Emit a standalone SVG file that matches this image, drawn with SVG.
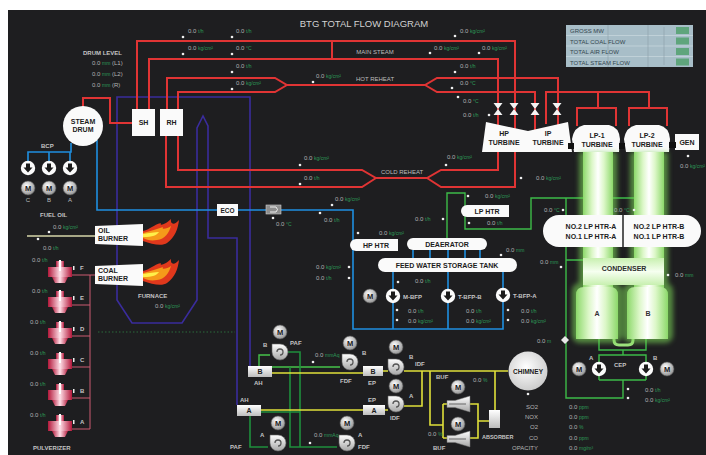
<svg xmlns="http://www.w3.org/2000/svg" width="706" height="455" viewBox="0 0 706 455">
<defs>
<style>
text{font-family:"Liberation Sans",Arial,sans-serif}
.t{font-size:9.5px;fill:#d2d2d2}
.lbl{font-size:7px;font-weight:bold;fill:#c9c9c9}
.nl{font-size:7px;font-weight:bold;fill:#1c1c1c;text-anchor:middle}
.pl{font-size:6px;fill:#bdbdbd;text-anchor:middle}
.sm{font-size:6px;font-weight:bold;fill:#c4c4c4}
.v{font-size:6px;fill:#b4b4b4}
.u{font-size:5px;fill:#2d9a58}
.lg{font-size:6px;fill:#34464e}
.steam{fill:none;stroke:#e03434;stroke-width:2}
.water{fill:none;stroke:#1f8fe0;stroke-width:1.6}
.gas{fill:none;stroke:#3a2c9c;stroke-width:1.6}
.cond{fill:none;stroke:#3dbb48;stroke-width:1.4}
.air{fill:none;stroke:#1f8f3c;stroke-width:1.6}
.airb{fill:none;stroke:#45c24a;stroke-width:1.4}
.flue{fill:none;stroke:#e0e03a;stroke-width:1.6}
.coal{fill:none;stroke:#cc5a70;stroke-width:1}
.oil{fill:none;stroke:#d6d6a8;stroke-width:1.6}
.box{fill:#fafafa}
.dot{fill:#efefef}
</style>
<radialGradient id="gM" cx="0.4" cy="0.35" r="0.75"><stop offset="0" stop-color="#ffffff"/><stop offset="1" stop-color="#858585"/></radialGradient>
<linearGradient id="gF" x1="0" y1="0" x2="0" y2="1"><stop offset="0" stop-color="#ffffff"/><stop offset="1" stop-color="#a6a6a6"/></linearGradient>
<linearGradient id="gBox" x1="0" y1="0" x2="0" y2="1"><stop offset="0" stop-color="#ffffff"/><stop offset="1" stop-color="#bdbdbd"/></linearGradient>
<linearGradient id="gP" x1="0" y1="0" x2="1" y2="0"><stop offset="0" stop-color="#b3173a"/><stop offset="0.5" stop-color="#ffe0e8"/><stop offset="1" stop-color="#b3173a"/></linearGradient>
<linearGradient id="gTube" x1="0" y1="0" x2="1" y2="0"><stop offset="0" stop-color="#8cd86a"/><stop offset="0.3" stop-color="#dcf7c8"/><stop offset="0.5" stop-color="#ffffff"/><stop offset="0.7" stop-color="#dcf7c8"/><stop offset="1" stop-color="#8cd86a"/></linearGradient>
<linearGradient id="gBand" x1="0" y1="0" x2="0" y2="1"><stop offset="0" stop-color="#c8f0b0"/><stop offset="0.5" stop-color="#f6fff0"/><stop offset="1" stop-color="#c8f0b0"/></linearGradient>
<radialGradient id="gC" cx="0.45" cy="0.4" r="0.7"><stop offset="0" stop-color="#ffffff"/><stop offset="1" stop-color="#c4c4c4"/></radialGradient>
<filter id="glow" x="-60%" y="-20%" width="220%" height="140%"><feGaussianBlur stdDeviation="2.5"/></filter>
<g id="motor"><circle r="7" fill="url(#gM)" stroke="#555" stroke-width="0.6"/><text y="2.7" class="nl" style="font-size:7.5px">M</text></g>
<g id="pump"><circle r="7.2" fill="#fbfbfb"/><path d="M-2,-4.5 H2 V-0.5 H4.5 L0,4.5 L-4.5,-0.5 H-2 Z" fill="#1b1b1b"/></g>
<g id="fan"><path d="M-8,-8 H0 A8,8 0 1 1 -8,0 Z" fill="url(#gF)" stroke="#666" stroke-width="0.6"/><path d="M-3,0 A3,3 0 1 1 0,3" fill="none" stroke="#555" stroke-width="1.3"/></g>
<path id="valve" d="M-4.5,-6 H4.5 L0,0 L4.5,6 H-4.5 L0,0 Z" fill="#f4f4f4"/>
<g id="buf"><path d="M-13,-3.5 H-5 L10,-8 V8 L-5,3.5 H-13 Z" fill="url(#gF)" stroke="#777" stroke-width="0.5"/><path d="M-11,0 H6" stroke="#666" stroke-width="1"/></g>
<g id="pulv"><rect x="-4" y="-11" width="8" height="6" fill="url(#gP)"/><rect x="-12" y="-5" width="24" height="10" fill="url(#gP)"/><path d="M-8,5 H8 L5,11 H-5 Z" fill="url(#gP)"/><rect x="-1" y="-12" width="2" height="11" fill="#ffffff"/><rect x="13" y="-6" width="1.5" height="4" fill="#eeeeee"/></g>
<g id="flame"><path d="M0,-4 C8,-6 10,-10 18,-12 C16,-9 22,-10 28,-16 C27,-10 32,-10 36,-15 C35,-6 32,2 24,8 C20,11 10,10 0,6 Z" fill="#e0381c"/><path d="M0,-2 C8,-4 14,-6 20,-8 C18,-5 24,-6 28,-9 C26,-2 22,4 14,5 C8,6 4,5 0,3 Z" fill="#f59a1a"/><path d="M0,-1 C6,-2 12,-3 16,-3 C14,0 10,2 0,2 Z" fill="#fff04a"/></g>
</defs>

<!-- panel -->
<rect width="706" height="455" fill="#ffffff"/>
<rect x="8" y="10" width="698" height="445" fill="#1e1e20"/>
<text class="t" x="364" y="27" text-anchor="middle">BTG TOTAL FLOW DIAGRAM</text>

<!-- connectors -->
<g id="connectors">
 <!-- flue gas path of furnace -->
 <path class="gas" d="M237,405 V238 H208 V126 L203,116 L197,128 V300 L182,323 H132 L117,300 V97 H250 V366"/>
 <path d="M98,332 H235" stroke="#2a6a3a" stroke-width="1" stroke-dasharray="1.5 2" fill="none"/>
 <!-- steam -->
 <path class="steam" d="M83,107 V98 H110 V123 H132"/>
 <path class="steam" d="M137,109 V41 H515 V130"/>
 <path class="steam" d="M149,109 V59 H498 V130"/>
 <path class="steam" d="M332,41 V59"/>
 <path class="steam" d="M167,109 V78 H275 L287,85 H425 L437,78 H558 V130"/>
 <path class="steam" d="M178,109 V92 H275 L287,85 M425,85 L437,92 H535 V130"/>
 <path class="steam" d="M546,124 V92 H649 V108 M598,92 V108 M577,126 V108 H616 V126 M629,126 V108 H667 V126"/>
 <path class="steam" d="M178,136 V170 H362 L376,178 H427 L441,170 H498 V150"/>
 <path class="steam" d="M166,136 V187 H362 L376,178 M427,178 L441,187 H515 V150"/>
 <!-- water -->
 <path class="water" d="M28,161 V152 H71 V143 M49,152 V161 M70,152 V161"/>
 <path class="water" d="M97,140 V210 H217"/>
 <path class="water" d="M238,210 H353 V329 H503 V301 M393,329 V301 M448,329 V301"/>
 <path class="water" d="M393,272 V289 M448,272 V289 M503,272 V288"/>
 <path class="water" d="M413,250 V258 M430,250 V258 M448,250 V258 M465,250 V258 M480,250 V258"/>
 <!-- condensate -->
 <path class="cond" d="M447,238 V193 H465 V229 H531 V198 H641 V260 H566 M566,198 V398 H623 V380 M599,380 H646 M599,374 V380 M646,374 V380"/>
 <path class="cond" d="M599,339 V350 H646 V339 M623,350 V355 M599,364 V355 H646 V364"/>
 <path d="M614,333 V340 Q614,345 619,345 H628 Q633,345 633,340 V333" fill="none" stroke="#9ee27e" stroke-width="3"/>
 <!-- fuel -->
 <path class="oil" d="M27,236 H95"/>
 <path class="coal" d="M95,275 H90 V429 M72,275 H90 M72,305 H90 M72,336 H90 M72,367 H90 M72,398 H90 M72,429 H90"/>
 <!-- combustion air -->
 <path class="airb" d="M259,366 V355 H270 M272,367 H340"/>
 <path class="air" d="M288,352 H300 V447 M290,367 V447 H337 M261,412 H300 M250,415 V447 H268"/>
 <!-- flue gas after air heaters -->
 <path class="flue" d="M272,373 H363 M383,371 H388 M404,371 H508 M261,410 H363 M385,410 H388 M404,406 H422 V371"/>
 <path class="flue" d="M430,371 V425 H443 M443,404 V438 M443,404 H447 M443,438 H447 M470,404 H478 V438 H470 M478,421 H489 M495,410 V371"/>
</g>

<!-- boiler side -->
<g id="drum"><circle cx="83" cy="126" r="20" fill="#fafafa"/><text class="nl" x="83" y="124">STEAM</text><text class="nl" x="83" y="132">DRUM</text></g>
<g id="sh"><rect x="132" y="109" width="23" height="27" class="box"/><text class="nl" x="143.5" y="125">SH</text></g>
<g id="rh"><rect x="160" y="109" width="23" height="27" class="box"/><text class="nl" x="171.5" y="125">RH</text></g>
<g id="eco"><rect x="217" y="204" width="21" height="12" class="box"/><text class="nl" x="227.5" y="213" style="font-size:6.5px">ECO</text></g>
<g id="flow-element"><rect x="266" y="205" width="15" height="9" fill="#8e8e8e" stroke="#cfcfcf" stroke-width="0.6"/><path d="M270,207 H276 Q279,209.5 276,212 H270" fill="none" stroke="#eee" stroke-width="1"/></g>
<text class="sm" x="83" y="55">DRUM LEVEL</text>
<g id="bcp">
 <text class="sm" x="41" y="148">BCP</text>
 <use href="#pump" x="28" y="168"/><use href="#pump" x="49" y="168"/><use href="#pump" x="70" y="168"/>
 <use href="#motor" x="28" y="188"/><use href="#motor" x="49" y="188"/><use href="#motor" x="70" y="188"/>
 <text class="pl" x="28" y="202">C</text><text class="pl" x="49" y="202">B</text><text class="pl" x="70" y="202">A</text>
</g>
<text class="sm" x="40" y="217">FUEL OIL</text>
<g id="oil-burner"><path d="M95,226 L143,224 V246 L95,244 Z" class="box"/><text class="nl" x="98" y="233" style="text-anchor:start">OIL</text><text class="nl" x="98" y="241" style="text-anchor:start">BURNER</text><use href="#flame" x="143" y="235"/></g>
<g id="coal-burner"><path d="M95,266 L143,264 V286 L95,284 Z" class="box"/><text class="nl" x="98" y="273" style="text-anchor:start">COAL</text><text class="nl" x="98" y="281" style="text-anchor:start">BURNER</text><use href="#flame" x="143" y="275"/></g>
<text class="sm" x="138" y="298">FURNACE</text>
<g id="pulverizers">
 <use href="#pulv" x="60" y="272"/><use href="#pulv" x="60" y="302"/><use href="#pulv" x="60" y="333"/>
 <use href="#pulv" x="60" y="364"/><use href="#pulv" x="60" y="395"/><use href="#pulv" x="60" y="426"/>
 <text class="sm" x="80" y="270">F</text><text class="sm" x="80" y="300">E</text><text class="sm" x="80" y="331">D</text>
 <text class="sm" x="80" y="362">C</text><text class="sm" x="80" y="393">B</text><text class="sm" x="80" y="424">A</text>
 <text class="sm" x="33" y="450">PULVERIZER</text>
</g>

<!-- turbine side -->
<g id="valves"><use href="#valve" x="498" y="109"/><use href="#valve" x="514" y="109"/><use href="#valve" x="535" y="109"/><use href="#valve" x="557" y="109"/></g>
<g id="hp-ip-turbine"><path d="M486,122 L528,131 L568,122 L572,152 L482,152 Z" class="box"/>
 <text class="nl" x="504" y="136">HP</text><text class="nl" x="504" y="145">TURBINE</text>
 <text class="nl" x="548" y="136">IP</text><text class="nl" x="548" y="145">TURBINE</text></g>
<g id="lp1-turbine"><path d="M574,152 L572,139 Q574,127 584,125 H609 Q619,127 620,139 L619,152 Z" class="box"/>
 <text class="nl" x="597" y="138">LP-1</text><text class="nl" x="597" y="147">TURBINE</text></g>
<g id="lp2-turbine"><path d="M626,152 L624,139 Q626,127 636,125 H659 Q669,127 670,139 L669,152 Z" class="box"/>
 <text class="nl" x="647" y="138">LP-2</text><text class="nl" x="647" y="147">TURBINE</text></g>
<g id="gen"><rect x="675" y="134" width="24" height="16" class="box"/><text class="nl" x="687" y="145">GEN</text></g>
<g fill="#111"><rect x="568" y="143" width="6" height="6"/><rect x="619" y="143" width="6" height="6"/><rect x="669" y="142" width="7" height="6"/></g>
<text class="pl" x="375" y="54">MAIN STEAM</text>
<text class="pl" x="375" y="81">HOT REHEAT</text>
<text class="pl" x="402" y="174">COLD REHEAT</text>

<g id="condenser">
 <g filter="url(#glow)" fill="#7ad456" opacity="0.6">
  <rect x="579" y="152" width="38" height="140"/><rect x="630" y="152" width="38" height="140"/>
  <rect x="572" y="283" width="50" height="60" rx="8"/><rect x="623" y="283" width="50" height="60" rx="8"/>
 </g>
 <rect x="583" y="152" width="30" height="140" fill="url(#gTube)"/>
 <rect x="634" y="152" width="30" height="140" fill="url(#gTube)"/>
 <rect x="583" y="258" width="81" height="27" fill="url(#gBand)"/>
 <path d="M576,339 V295 Q576,287 584,287 H610 Q618,287 618,295 V339 Z" fill="url(#gTube)"/>
 <path d="M627,339 V295 Q627,287 635,287 H660 Q668,287 668,295 V339 Z" fill="url(#gTube)"/>
 <text class="nl" x="624" y="271" style="fill:#2c2c2c">CONDENSER</text>
 <text class="nl" x="597" y="316" style="fill:#333">A</text>
 <text class="nl" x="648" y="316" style="fill:#333">B</text>
</g>
<g id="lp-heaters"><rect x="543" y="215" width="158" height="32" rx="16" class="box"/>
 <path d="M623,207 V250" stroke="#222" stroke-width="1.5"/>
 <text class="nl" x="591" y="229">NO.2 LP HTR-A</text><text class="nl" x="591" y="239">NO.1 LP HTR-A</text>
 <text class="nl" x="659" y="229">NO.2 LP HTR-B</text><text class="nl" x="659" y="239">NO.1 LP HTR-B</text></g>

<!-- feed water -->
<g id="hp-htr"><path d="M356,239 H398 V251 H356 A6,6 0 0 1 356,239 Z" class="box"/><text class="nl" x="376" y="248">HP HTR</text></g>
<g id="lp-htr"><path d="M467,205 H509 V217 H467 A6,6 0 0 1 467,205 Z" class="box"/><text class="nl" x="487" y="214">LP HTR</text></g>
<g id="deaerator"><rect x="407" y="238" width="80" height="12" rx="6" class="box"/><text class="nl" x="447" y="247">DEAERATOR</text></g>
<g id="storage-tank"><rect x="378" y="258" width="139" height="14" rx="7" class="box"/><text class="nl" x="447" y="268">FEED WATER STORAGE TANK</text></g>
<g id="m-bfp"><use href="#motor" x="370" y="296"/><use href="#pump" x="393" y="296"/><text class="sm" x="403" y="298.5">M-BFP</text></g>
<g id="t-bfp-b"><use href="#pump" x="448" y="296"/><text class="sm" x="458" y="298.5">T-BFP-B</text></g>
<g id="t-bfp-a"><use href="#pump" x="503" y="295"/><text class="sm" x="513" y="298">T-BFP-A</text></g>
<g id="cep"><use href="#motor" x="579" y="369"/><use href="#pump" x="599" y="369"/><use href="#pump" x="646" y="369"/><use href="#motor" x="667" y="369"/>
 <text class="sm" x="589" y="360">A</text><text class="sm" x="653" y="360">B</text><text class="sm" x="614" y="367">CEP</text></g>
<path d="M565,336 L569,340 L565,344 L561,340 Z" fill="#e8e8e8"/>

<!-- draft system -->
<g id="ah-b"><rect x="248" y="366" width="24" height="11" fill="url(#gBox)"/><text class="nl" x="260" y="374">B</text><text class="sm" x="254" y="385">AH</text></g>
<g id="ah-a"><rect x="237" y="405" width="24" height="11" fill="url(#gBox)"/><text class="nl" x="249" y="413">A</text><text class="sm" x="240" y="402">AH</text></g>
<g id="ep-b"><rect x="363" y="366" width="20" height="10" fill="url(#gBox)"/><text class="nl" x="373" y="374">B</text><text class="sm" x="368" y="385">EP</text></g>
<g id="ep-a"><rect x="363" y="405" width="22" height="10" fill="url(#gBox)"/><text class="nl" x="374" y="413">A</text><text class="sm" x="368" y="402">EP</text></g>
<g id="paf-b"><use href="#motor" x="280" y="332"/><use href="#fan" x="280" y="352"/><text class="sm" x="263" y="347">B</text><text class="sm" x="290" y="345">PAF</text></g>
<g id="paf-a"><use href="#motor" x="278" y="423"/><use href="#fan" x="278" y="443"/><text class="sm" x="260" y="437">A</text><text class="sm" x="230" y="449">PAF</text></g>
<g id="fdf-b"><use href="#motor" x="350" y="343"/><use href="#fan" x="350" y="362"/><text class="sm" x="362" y="355">B</text><text class="sm" x="340" y="383">FDF</text></g>
<g id="fdf-a"><use href="#motor" x="347" y="423"/><use href="#fan" x="347" y="443"/><text class="sm" x="358" y="437">A</text><text class="sm" x="358" y="449">FDF</text></g>
<g id="idf-b"><use href="#motor" x="396" y="347"/><use href="#fan" x="396" y="367"/><text class="sm" x="409" y="359">B</text><text class="sm" x="415" y="366">IDF</text></g>
<g id="idf-a"><use href="#motor" x="396" y="386"/><use href="#fan" x="396" y="404"/><text class="sm" x="409" y="398">A</text><text class="sm" x="390" y="420">IDF</text></g>
<g id="buf-b"><use href="#motor" x="458" y="387"/><use href="#buf" x="460" y="404"/><text class="sm" x="436" y="379">BUF</text></g>
<g id="buf-a"><use href="#motor" x="458" y="424"/><use href="#buf" x="460" y="439"/><text class="sm" x="433" y="450">BUF</text></g>
<g id="absorber"><rect x="489" y="410" width="11" height="18" fill="url(#gBox)"/><text class="sm" x="482" y="439" style="font-size:5.5px">ABSORBER</text></g>
<g id="chimney"><circle cx="528" cy="371" r="19.5" fill="url(#gC)"/><text class="nl" x="528" y="373.5" style="font-size:6.5px">CHIMNEY</text><circle class="dot" cx="528" cy="394" r="1.3"/></g>
<g id="stack-analyzer" class="v">
 <text x="538" y="409" text-anchor="end">SO2</text><text x="538" y="419" text-anchor="end">NOX</text>
 <text x="538" y="429" text-anchor="end">O2</text><text x="538" y="440" text-anchor="end">CO</text>
 <text x="538" y="450" text-anchor="end">OPACITY</text>
 <text x="569" y="409">0.0 <tspan class="u">ppm</tspan></text><text x="569" y="419">0.0 <tspan class="u">ppm</tspan></text>
 <text x="569" y="429">0.0 <tspan class="u">%</tspan></text><text x="569" y="440">0.0 <tspan class="u">ppm</tspan></text>
 <text x="569" y="450">0.0 <tspan class="u">mg/m³</tspan></text>
</g>

<!-- summary table -->
<g id="summary">
 <rect x="566" y="25" width="127" height="42" fill="#a8bec8"/>
 <path d="M566,35.5 H693 M566,46 H693 M566,56.5 H693" stroke="#c6d6dc" stroke-width="0.8"/>
 <path d="M608,25 V67 M648,25 V67 M664,27 V65" stroke="#8aa0aa" stroke-width="0.6"/>
 <text class="lg" x="570" y="33">GROSS MW</text><text class="lg" x="570" y="43.5">TOTAL COAL FLOW</text>
 <text class="lg" x="570" y="54">TOTAL AIR FLOW</text><text class="lg" x="570" y="64.5">TOTAL STEAM FLOW</text>
 <g fill="#5fa57c"><rect x="676" y="27" width="13" height="7"/><rect x="676" y="37.5" width="13" height="7"/><rect x="676" y="48" width="13" height="7"/><rect x="676" y="58.5" width="13" height="7"/></g>
</g>

<!-- process readings -->
<g id="readings" class="v">
 <text x="92" y="65">0.0 <tspan class="u">mm</tspan> (L1)</text>
 <text x="92" y="76">0.0 <tspan class="u">mm</tspan> (L2)</text>
 <text x="92" y="87">0.0 <tspan class="u">mm</tspan> (R)</text>
 <text x="188" y="33">0.0 <tspan class="u">t/h</tspan></text><text x="236" y="33">0.0 <tspan class="u">t/h</tspan></text>
 <text x="188" y="50">0.0 <tspan class="u">kg/cm²</tspan></text><text x="236" y="50">0.0 <tspan class="u">°C</tspan></text>
 <text x="236" y="68">0.0 <tspan class="u">t/h</tspan></text><text x="236" y="85">0.0 <tspan class="u">kg/cm²</tspan></text>
 <text x="316" y="78">0.0 <tspan class="u">kg/cm²</tspan></text>
 <text x="460" y="33">0.0 <tspan class="u">kg/cm²</tspan></text><text x="434" y="50">0.0 <tspan class="u">kg/cm²</tspan></text>
 <text x="482" y="50">0.0 <tspan class="u">kg/cm²</tspan></text><text x="460" y="68">0.0 <tspan class="u">t/h</tspan></text>
 <text x="460" y="85">0.0 <tspan class="u">°C</tspan></text><text x="463" y="103">0.0 <tspan class="u">°C</tspan></text>
 <text x="463" y="117">0.0 <tspan class="u">t/h</tspan></text>
 <text x="304" y="160">0.0 <tspan class="u">kg/cm²</tspan></text><text x="304" y="180">0.0 <tspan class="u">t/h</tspan></text>
 <text x="447" y="159">0.0 <tspan class="u">kg/cm²</tspan></text>
 <text x="335" y="201">0.0 <tspan class="u">kg/cm²</tspan></text><text x="324" y="222">0.0 <tspan class="u">t/h</tspan></text>
 <text x="276" y="226">0.0 <tspan class="u">°C</tspan></text><text x="379" y="235">0.0 <tspan class="u">kg/cm²</tspan></text>
 <text x="415" y="221">0.0 <tspan class="u">t/h</tspan></text>
 <text x="316" y="269">0.0 <tspan class="u">kg/cm²</tspan></text><text x="316" y="280">0.0 <tspan class="u">t/h</tspan></text>
 <text x="415" y="283">0.0 <tspan class="u">t/h</tspan></text>
 <text x="485" y="198">0.0 <tspan class="u">kg/cm²</tspan></text><text x="487" y="225">0.0 <tspan class="u">t/h</tspan></text>
 <text x="536" y="180">0.0 <tspan class="u">kg/cm²</tspan></text><text x="544" y="212">0.0 <tspan class="u">°C</tspan></text>
 <text x="614" y="212">0.0 <tspan class="u">°C</tspan></text><text x="680" y="168">0.0 <tspan class="u">kg/cm²</tspan></text>
 <text x="506" y="252">0.0 <tspan class="u">mm</tspan></text><text x="540" y="264">0.0 <tspan class="u">mm</tspan></text>
 <text x="675" y="277">0.0 <tspan class="u">mm</tspan></text>
 <text x="408" y="313">0.0 <tspan class="u">t/h</tspan></text><text x="408" y="323">0.0 <tspan class="u">kg/cm²</tspan></text>
 <text x="466" y="313">0.0 <tspan class="u">t/h</tspan></text><text x="466" y="323">0.0 <tspan class="u">kg/cm²</tspan></text>
 <text x="521" y="313">0.0 <tspan class="u">t/h</tspan></text><text x="521" y="323">0.0 <tspan class="u">kg/cm²</tspan></text>
 <text x="537" y="343">0.0 <tspan class="u">m</tspan></text>
 <text x="645" y="392">0.0 <tspan class="u">t/h</tspan></text><text x="645" y="402">0.0 <tspan class="u">kg/cm²</tspan></text>
 <text x="315" y="357">0.0 <tspan class="u">mmAq</tspan></text><text x="314" y="437">0.0 <tspan class="u">mmAq</tspan></text>
 <text x="428" y="436">0.0 <tspan class="u">%</tspan></text><text x="473" y="382">0.0 <tspan class="u">%</tspan></text>
 <text x="155" y="308">0.0 <tspan class="u">kg/cm²</tspan></text>
 <text x="53" y="229">0.0 <tspan class="u">kg/cm²</tspan></text><text x="43" y="250">0.0 <tspan class="u">t/h</tspan></text>
 <text x="32" y="262">0.0 <tspan class="u">t/h</tspan></text><text x="32" y="293">0.0 <tspan class="u">t/h</tspan></text>
 <text x="30" y="324">0.0 <tspan class="u">t/h</tspan></text><text x="30" y="355">0.0 <tspan class="u">t/h</tspan></text>
 <text x="30" y="386">0.0 <tspan class="u">t/h</tspan></text><text x="30" y="417">0.0 <tspan class="u">t/h</tspan></text>
</g>
<g id="reading-dots" class="dot">
 <circle cx="183" cy="37" r="1.3"/><circle cx="232" cy="37" r="1.3"/><circle cx="183" cy="54" r="1.3"/><circle cx="232" cy="54" r="1.3"/>
 <circle cx="232" cy="72" r="1.3"/><circle cx="232" cy="89" r="1.3"/><circle cx="313" cy="82" r="1.3"/>
 <circle cx="455" cy="36" r="1.3"/><circle cx="430" cy="53" r="1.3"/><circle cx="479" cy="53" r="1.3"/><circle cx="455" cy="72" r="1.3"/>
 <circle cx="452" cy="88" r="1.3"/><circle cx="458" cy="97" r="1.3"/><circle cx="489" cy="115" r="1.3"/>
 <circle cx="300" cy="165" r="1.3"/><circle cx="300" cy="184" r="1.3"/><circle cx="446" cy="165" r="1.3"/>
 <circle cx="332" cy="205" r="1.3"/><circle cx="320" cy="213" r="1.3"/><circle cx="273" cy="218" r="1.3"/><circle cx="358" cy="233" r="1.3"/>
 <circle cx="443" cy="219" r="1.3"/><circle cx="349" cy="267" r="1.3"/><circle cx="349" cy="278" r="1.3"/><circle cx="398" cy="282" r="1.3"/>
 <circle cx="468" cy="196" r="1.3"/><circle cx="469" cy="223" r="1.3"/><circle cx="521" cy="178" r="1.3"/><circle cx="563" cy="210" r="1.3"/>
 <circle cx="634" cy="210" r="1.3"/><circle cx="688" cy="156" r="1.3"/><circle cx="501" cy="255" r="1.3"/><circle cx="561" cy="267" r="1.3"/>
 <circle cx="668" cy="275" r="1.3"/><circle cx="397" cy="310" r="1.3"/><circle cx="397" cy="320" r="1.3"/><circle cx="508" cy="310" r="1.3"/>
 <circle cx="508" cy="320" r="1.3"/><circle cx="628" cy="389" r="1.3"/><circle cx="628" cy="398" r="1.3"/>
 <circle cx="313" cy="362" r="1.3"/><circle cx="310" cy="443" r="1.3"/><circle cx="49" cy="232" r="1.3"/><circle cx="38" cy="239" r="1.3"/>
</g>
</svg>
